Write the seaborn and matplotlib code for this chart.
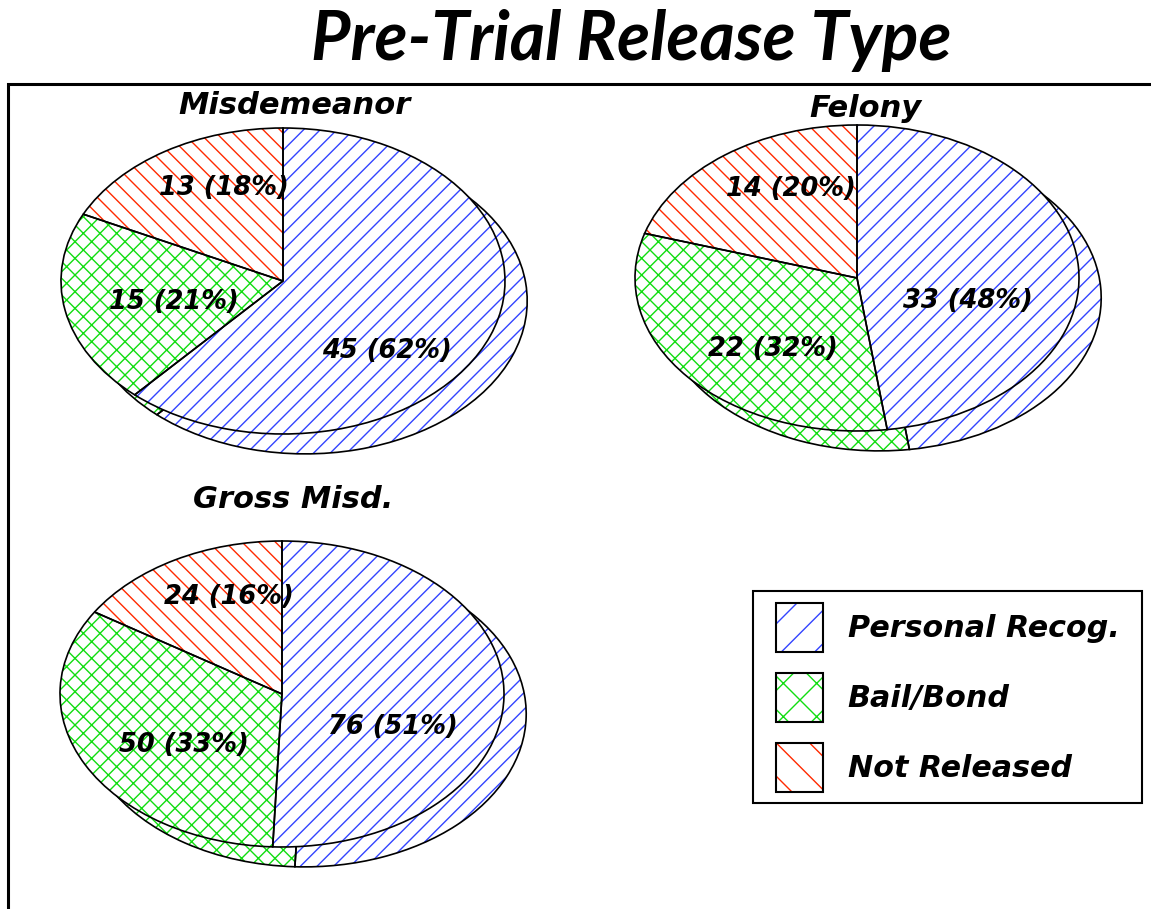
import matplotlib
matplotlib.use("Agg")
import numpy as np
import matplotlib.pyplot as plt
from matplotlib.patches import Patch, Rectangle
from matplotlib.legend_handler import HandlerTuple
import seaborn as sns

sns.set_theme(style='white')
plt.rcParams['font.family'] = ['DejaVu Sans']
plt.rcParams['text.color'] = 'black'
plt.rcParams['hatch.linewidth'] = 1.0

# data
release_types = ['Personal Recog.', 'Bail/Bond', 'Not Released']
misdemeanor = [45, 15, 13]
felony = [33, 22, 14]
gross_misd = [76, 50, 24]
chart_titles = ['Misdemeanor', 'Felony', 'Gross Misd.']

colors = ['#3344ff', '#11dd11', '#ff2a00']
hatches = ['//', 'xx', '\\\\']
label_drop = [-0.2, 0.0, 0.0]   # the big slice's label sits a bit lower

W, H = 1151, 909
fig = plt.figure(figsize=(W / 100, H / 100), dpi=100)
fig.patch.set_facecolor('white')

# outer frame (runs off the right and bottom of the image)
fig.patches.append(Rectangle((8 / W, -0.2), 1.3, 1 - 84 / H + 0.2,
                             transform=fig.transFigure, fill=False,
                             edgecolor='black', linewidth=2.2))

fig.text(631 / W, 1 - 41 / H, 'Pre-Trial Release Type', ha='center', va='center',
         fontsize=49, fontweight='bold', style='italic', color='black',
         family=['Lato', 'DejaVu Sans'])

A, B = 222, 153          # ellipse semi-axes in pixels
DX, DY = 0.1, -0.13      # offset of the lower "depth" layer
txt = dict(fontweight='bold', style='italic', color='black')


def make_axes(cx, cy):
    w, h = 2.5 * A, 2.5 * B
    return fig.add_axes([(cx - w / 2) / W, 1 - (cy + h / 2) / H, w / W, h / H])


def draw_pie(ax, counts, title, title_x, title_y):
    total = sum(counts)
    for center in [(DX, DY), (0, 0)]:
        ax.pie(counts, colors=['white'] * 3, hatch=hatches, startangle=90,
               counterclock=False, center=center,
               wedgeprops=dict(linewidth=0))
        for w, c in zip(ax.patches[-3:], colors):
            w.set_edgecolor(c)
            w.set_linewidth(0)
        ax.pie(counts, startangle=90, counterclock=False, center=center,
               wedgeprops=dict(fill=False, edgecolor='black', linewidth=1.2))
    # value labels at the slice mid-angles
    frac = np.array(counts) / total
    ends = 90 - 360 * np.cumsum(frac)
    mids = np.deg2rad(ends + 180 * frac)
    for n, p, t, d in zip(counts, frac, mids, label_drop):
        ax.text(0.5 * np.cos(t), 0.72 * np.sin(t) + d, f'{n} ({p * 100:.0f}%)',
                ha='center', va='center', fontsize=18.5, **txt)
    ax.set_aspect('auto')
    ax.set_xlim(-1.25, 1.25)
    ax.set_ylim(-1.25, 1.25)
    ax.text(title_x, title_y, title, ha='center', va='center', fontsize=22, **txt)
    ax.axis('off')


ax1 = make_axes(283, 281)
draw_pie(ax1, misdemeanor, chart_titles[0], 0.05, 1.15)
ax2 = make_axes(857, 278)
draw_pie(ax2, felony, chart_titles[1], 0.04, 1.11)
ax3 = make_axes(282, 694)
draw_pie(ax3, gross_misd, chart_titles[2], 0.05, 1.27)

# legend box drawn separately so its padding matches the original
fig.patches.append(Rectangle((753 / W, 1 - 803 / H), 389 / W, 212 / H,
                             transform=fig.transFigure, fill=False,
                             edgecolor='black', linewidth=1.5))
handles = [(Patch(facecolor='white', edgecolor=c, hatch=h[0], linewidth=0),
            Patch(fill=False, edgecolor='black', linewidth=1.5))
           for c, h in zip(colors, hatches)]
leg = fig.legend(handles, release_types, loc='upper left',
                 bbox_to_anchor=(776 / W, 1 - 603 / H), frameon=False,
                 borderaxespad=0, borderpad=0, handlelength=1.55,
                 handleheight=2.1, labelspacing=0.72, handletextpad=0.83,
                 handler_map={tuple: HandlerTuple(ndivide=1)},
                 prop=dict(size=21.7, weight='bold', style='italic'))
for t in leg.get_texts():
    t.set_color('black')

plt.savefig('out.png', dpi=100)
